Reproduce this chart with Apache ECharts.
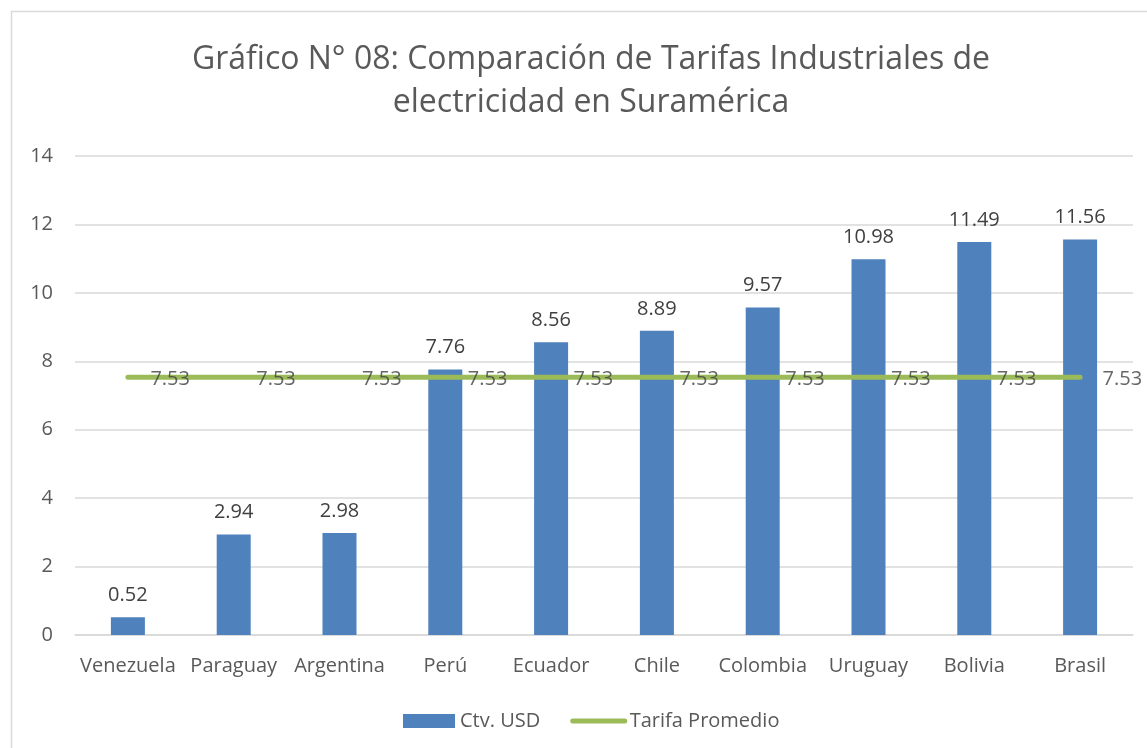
<!DOCTYPE html>
<html>
<head>
<meta charset="utf-8">
<script src="https://cdn.jsdelivr.net/npm/echarts@6/dist/echarts.min.js"></script>
<style>
  html, body { margin: 0; padding: 0; background: #fff; }
  #chart { width: 1147px; height: 748px; }
</style>
</head>
<body>
<div id="chart"></div>
<script>
// datos
const paises = ['Venezuela', 'Paraguay', 'Argentina', 'Perú', 'Ecuador', 'Chile', 'Colombia', 'Uruguay', 'Bolivia', 'Brasil'];
const tarifas = [0.52, 2.94, 2.98, 7.76, 8.56, 8.89, 9.57, 10.98, 11.49, 11.56];
const promedio = [7.53, 7.53, 7.53, 7.53, 7.53, 7.53, 7.53, 7.53, 7.53, 7.53];
const yTicks = [0, 2, 4, 6, 8, 10, 12, 14];

const fuente = '"Open Sans", "Noto Sans", sans-serif';
const myChart = echarts.init(document.getElementById('chart'));
myChart.setOption({
    animation: false,
    textStyle: { fontFamily: fuente },
    graphic: [{
        type: 'rect',
        shape: { x: 11.5, y: 11.5, width: 1300, height: 900 },
        style: { fill: 'none', stroke: '#D9D9D9', lineWidth: 1.5 },
        silent: true
    }],
    title: {
        text: 'Gráfico N° 08: Comparación de Tarifas Industriales de\nelectricidad en Suramérica',
        left: 586,
        textAlign: 'center',
        top: 33,
        textStyle: {
            color: '#595959',
            fontSize: 32,
            fontWeight: 'normal',
            fontFamily: fuente,
            lineHeight: 43
        }
    },
    legend: {
        bottom: 12,
        left: 398,
        itemWidth: 52,
        itemHeight: 14,
        itemGap: 30,
        textStyle: { color: '#595959', fontSize: 20, fontFamily: fuente },
        data: [
            { name: 'Ctv. USD', icon: 'rect' },
            { name: 'Tarifa Promedio', itemStyle: { opacity: 0 }, lineStyle: { width: 5, cap: 'round' } }
        ]
    },
    grid: { left: 75, right: 14, top: 156, bottom: 113 },
    xAxis: {
        type: 'category',
        data: paises,
        axisLine: { lineStyle: { color: '#D9D9D9', width: 1.5 } },
        axisTick: { show: false },
        axisLabel: { color: '#595959', fontSize: 20, margin: 21, interval: 0 }
    },
    yAxis: {
        type: 'value',
        min: yTicks[0],
        max: yTicks[yTicks.length - 1],
        interval: 2,
        axisLine: { show: false },
        axisTick: { show: false },
        splitLine: { lineStyle: { color: '#D9D9D9', width: 1.5 } },
        axisLabel: { color: '#595959', fontSize: 20, margin: 22 }
    },
    series: [
        {
            name: 'Ctv. USD',
            type: 'bar',
            data: tarifas,
            barWidth: 34,
            itemStyle: { color: '#4F81BD' },
            label: {
                show: true,
                position: 'top',
                distance: 12,
                color: '#404040',
                fontSize: 20,
                formatter: function (p) { return p.value.toFixed(2); }
            }
        },
        {
            name: 'Tarifa Promedio',
            type: 'line',
            data: promedio,
            symbol: 'none',
            itemStyle: { color: '#9BBB59' },
            lineStyle: { color: '#9BBB59', width: 5, cap: 'round' },
            z: 3
        },
        {
            // etiquetas de la línea promedio
            name: 'etiquetas',
            type: 'scatter',
            data: promedio,
            symbolSize: 1,
            itemStyle: { color: 'rgba(0,0,0,0)' },
            label: {
                show: true,
                position: 'right',
                distance: 22,
                color: '#404040',
                fontSize: 20,
                offset: [0, 2],
                formatter: function (p) { return p.value.toFixed(2); }
            },
            z: 4,
            silent: true
        }
    ]
});
</script>
</body>
</html>
